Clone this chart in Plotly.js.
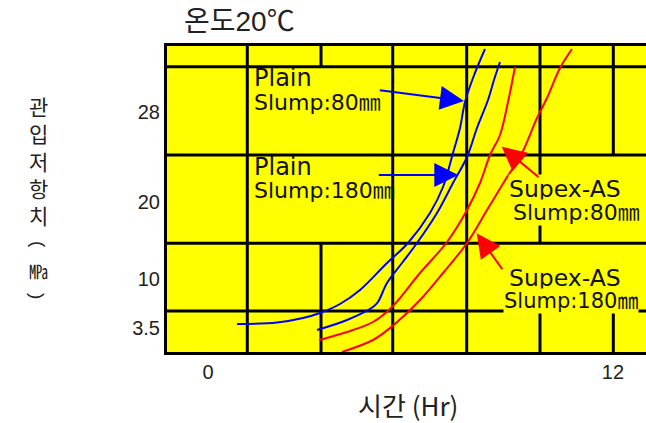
<!DOCTYPE html>
<html><head><meta charset="utf-8">
<script src="https://cdn.plot.ly/plotly-3.0.1.min.js"></script>
<style>html,body{margin:0;padding:0;overflow:hidden;background:#fff}</style>
</head><body><div id="chart" style="width:646px;height:423px"></div>
<script>
// ---- data (time in hours, resistance on the chart's drawn vertical scale) ----
const plain80Time   = [0.859,2.044,2.815,3.319,3.911,4.504,5.304,5.926,6.578,6.963,7.259,7.467,7.615,7.852,8.207];
const plain80Resist = [2.9,3.05,3.5,4.0,4.9,6.3,9.0,11.0,14.0,16.6,20.0,22.5,25.1,27.5,30.4];
const plain180Time   = [3.230,4.119,4.889,5.037,5.304,5.748,6.193,6.785,7.259,7.674,7.970,8.296,8.474,8.652];
const plain180Resist = [2.3,3.3,4.6,5.1,7.0,9.0,11.0,14.0,17.0,19.6,22.5,25.3,27.3,29.1];
const supex80Time   = [3.289,4.296,4.889,5.452,6.281,7.081,7.674,8.059,8.356,8.652,8.889,9.096];
const supex80Resist = [1.3,2.3,3.1,4.6,8.0,11.1,14.3,17.0,19.8,21.8,25.1,28.6];
const supex180Time   = [3.970,4.889,5.393,6.281,6.963,7.674,8.267,8.770,9.304,9.748,10.044,10.430,10.785];
const supex180Resist = [0.1,1.3,2.5,5.3,8.0,11.0,14.3,17.1,20.0,23.5,25.5,28.5,30.4];

const xTickVals = [0, 12];
const xTickText = ['0', '12'];
const yTickVals = [2.47, 7.4, 15.07, 24.07];
const yTickText = ['3.5', '10', '20', '28'];

const seriesNames = ['Plain Slump:80㎜','Plain Slump:180㎜','Supex-AS Slump:80㎜','Supex-AS Slump:180㎜'];

// ---- layout helpers ----
const XR = [-1.215, 12.978];
const YR = [0.1, 30.7];
const hLines = [28.63, 19.8, 10.97, 4.2];
const bands = [[28.63, YR[1]], [19.8, 28.63], [10.97, 19.8], [4.2, 10.97], [YR[0], 4.2]];
const vLines = [
  {x: 1.164, rows: [0,1,2,3,4]},
  {x: 3.348, rows: [0,3,4]},
  {x: 5.473, rows: [0,1,2,3,4]},
  {x: 7.665, rows: [0,1,2,3,4]},
  {x: 9.837, rows: [0,1,2,4]},
  {x: 12.009, rows: [0,1,4]}
];
const shapes = [];
hLines.forEach(y => shapes.push({type:'line', xref:'x', yref:'y', x0:XR[0], x1:XR[1], y0:y, y1:y, line:{color:'#000', width:3}, layer:'below'}));
vLines.forEach(v => v.rows.forEach(r => shapes.push({type:'line', xref:'x', yref:'y', x0:v.x, x1:v.x, y0:bands[r][0], y1:bands[r][1], line:{color:'#000', width:3}, layer:'below'})));

const txtFont = (s) => ({family:'DejaVu Sans, Noto Sans CJK KR', size:s, color:'#111'});
const annotations = [
  {x:1.333, y:27.5, text:'Plain', font:txtFont(24)},
  {x:1.333, y:25.1, text:'Slump:80㎜', font:txtFont(22)},
  {x:1.333, y:18.65, text:'Plain', font:txtFont(24)},
  {x:1.333, y:16.3, text:'Slump:180㎜', font:txtFont(22)},
  {x:8.88, y:16.45, text:'Supex-AS', font:txtFont(23.5), bgcolor:'#ffff00'},
  {x:9.0, y:14.1, text:'Slump:80㎜', font:txtFont(22), bgcolor:'#ffff00'},
  {x:8.88, y:7.5, text:'Supex-AS', font:txtFont(23.5), bgcolor:'#ffff00'},
  {x:8.73, y:5.2, text:'Slump:180㎜', font:txtFont(21), bgcolor:'#ffff00'}
].map(a => Object.assign({xref:'x', yref:'y', xanchor:'left', yanchor:'middle', showarrow:false, borderpad:0}, a));

const arrows = [
  {ax:5.046, ay:26.3, x:7.585, y:25.2, c:'#0000ff'},
  {ax:5.016, ay:17.8, x:7.416, y:17.8, c:'#0000ff'},
  {ax:9.837, ay:17.47, x:8.702, y:20.63, c:'#ff0000'},
  {ax:8.75, ay:8.23, x:7.961, y:11.97, c:'#ff0000'}
];
arrows.forEach(a => annotations.push({xref:'x', yref:'y', axref:'x', ayref:'y', x:a.x, y:a.y, ax:a.ax, ay:a.ay, text:'', showarrow:true, arrowcolor:a.c, arrowwidth:2, arrowhead:2, arrowsize:2.4, standoff:0}));

// stacked y-axis title: 관입저항치 (MPa)
const px = (p) => (p - 167) / 479, py = (p) => (352 - p) / 306;
const yLab = {family:'Noto Sans CJK KR', size:21, color:'#222'};
annotations.push({xref:'paper', yref:'paper', x:px(38), y:py(160), xanchor:'center', yanchor:'middle', showarrow:false,
  text:'관<br>입<br>저<br>항<br>치', font:yLab});
annotations.push({xref:'paper', yref:'paper', x:px(38), y:py(244), xanchor:'center', yanchor:'middle', showarrow:false,
  text:'(', textangle:90, font:{family:'Liberation Sans', size:19, color:'#222'}});
annotations.push({xref:'paper', yref:'paper', x:px(38), y:py(270), xanchor:'center', yanchor:'middle', showarrow:false,
  text:'㎫', font:{family:'Noto Sans CJK KR', size:19, color:'#222'}});
annotations.push({xref:'paper', yref:'paper', x:px(38), y:py(296), xanchor:'center', yanchor:'middle', showarrow:false,
  text:')', textangle:90, font:{family:'Liberation Sans', size:19, color:'#222'}});
annotations.push({xref:'paper', yref:'paper', x:px(408), y:py(404), xanchor:'center', yanchor:'middle', showarrow:false,
  text:'시간 (Hr)', font:{family:'Noto Sans CJK KR', size:26, color:'#222'}});

const mk = (x, y, c, n) => ({x:x, y:y, name:n, type:'scatter', mode:'lines', line:{color:c, width:2, shape:'spline', smoothing:1}, hoverinfo:'skip'});
const traces = [
  mk(plain80Time, plain80Resist, '#0000ff', seriesNames[0]),
  mk(plain180Time, plain180Resist, '#0000ff', seriesNames[1]),
  mk(supex80Time, supex80Resist, '#ff0000', seriesNames[2]),
  mk(supex180Time, supex180Resist, '#ff0000', seriesNames[3])
];

const layout = {
  width:646, height:423,
  margin:{l:167, r:0, t:46, b:71, pad:0},
  paper_bgcolor:'#ffffff', plot_bgcolor:'#ffff00',
  showlegend:false,
  title:{text:'온도20℃', font:{family:'Liberation Sans, Noto Sans CJK KR', size:28, color:'#222'}, xref:'container', yref:'container', x:184/646, xanchor:'left', y:1-21/423, yanchor:'middle'},
  xaxis:{range:XR, showgrid:false, zeroline:false, showline:true, linecolor:'#000', linewidth:3, mirror:true, ticks:'',
    tickmode:'array', tickvals:xTickVals, ticktext:xTickText, tickfont:{family:'Liberation Sans', size:20, color:'#222'}, fixedrange:true},
  yaxis:{range:YR, showgrid:false, zeroline:false, showline:true, linecolor:'#000', linewidth:3, mirror:false, ticks:'',
    tickmode:'array', tickvals:yTickVals, ticktext:yTickText, tickfont:{family:'Liberation Sans', size:20, color:'#222'}, fixedrange:true},
  shapes:shapes,
  annotations:annotations
};
Plotly.newPlot('chart', traces, layout, {staticPlot:true, displayModeBar:false});
</script></body></html>
